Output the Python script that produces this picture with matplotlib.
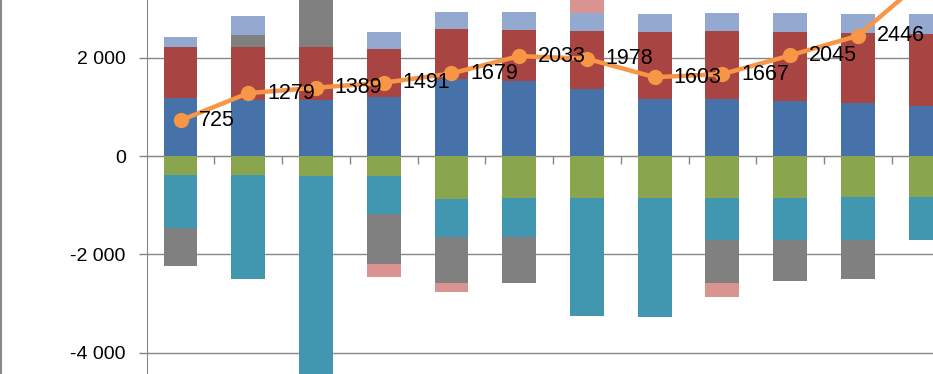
import numpy as np
import matplotlib
matplotlib.use("Agg")
import matplotlib.pyplot as plt
from matplotlib.lines import Line2D

plt.rcParams['font.family'] = ['Liberation Sans', 'DejaVu Sans']

# Data (12 categories, last one cut off on the right)
blue = [1180, 1139, 1139, 1194, 1566, 1532, 1357, 1166, 1166, 1119, 1084, 1017]
red = [1031, 1072, 1072, 982, 1011, 1031, 1192, 1357, 1383, 1403, 1424, 1464]
green = [-386, -386, -400, -407, -875, -854, -854, -854, -854, -854, -827, -827]
teal = [-1072, -2110, -4200, -773, -766, -787, -2394, -2427, -855, -855, -882, -882]
gray = [-773, 250, 1300, -1017, -949, -936, 0, 0, -868, -827, -787, 0]
lightblue = [203, 386, 350, 340, 346, 360, 354, 366, 360, 380, 380, 407]
pink = [0, 0, 0, -258, -170, 0, 300, 0, -285, 0, 0, 0]
line_vals = [725, 1279, 1389, 1491, 1679, 2033, 1978, 1603, 1667, 2045, 2446, 3620]

yticks = [-4000, -2000, 0, 2000]
ytick_labels = ['-4 000', '-2 000', '0', '2 000']

series = [
    (blue, '#4672A9'),
    (red, '#A84442'),
    (green, '#89A54E'),
    (teal, '#4197B0'),
    (gray, '#808080'),
    (lightblue, '#93A9D0'),
    (pink, '#D99391'),
]

fig = plt.figure(figsize=(9.33, 3.74), dpi=100)
ax = fig.add_axes([146.7 / 933, 0, 1 - 146.7 / 933, 1])

x = np.arange(len(blue))
pos_base = np.zeros(len(x))
neg_base = np.zeros(len(x))

# Excel-style stacking: positives and negatives stack separately
for vals, col in series:
    v = np.array(vals, dtype=float)
    bottom = np.where(v >= 0, pos_base, neg_base)
    ax.bar(x, v, bottom=bottom, width=0.5, color=col, zorder=2)
    pos_base = pos_base + np.where(v > 0, v, 0)
    neg_base = neg_base + np.where(v < 0, v, 0)

ax.plot(x, line_vals, color='#F79646', lw=3.2, marker='o', ms=10,
        zorder=4, clip_on=True)
for xi, yi in zip(x, line_vals):
    ax.annotate(str(yi), (xi, yi), xytext=(13.5, 0), textcoords='offset points',
                ha='left', va='center', fontsize=15.5, color='black', zorder=5)

ax.set_yticks(yticks)
ax.set_yticklabels(ytick_labels, fontsize=14)
ax.tick_params(axis='y', direction='out', length=6, width=1, color='#868686', pad=9)
ax.yaxis.grid(True, color='#868686', lw=1)
ax.set_axisbelow(True)

ax.set_xticks(x + 0.5)
ax.set_xticklabels([])
ax.tick_params(axis='x', direction='out', length=6, width=1, color='#868686')

ax.set_xlim(-0.5, 11.11)
ax.set_ylim(-4434, 3173)

for s in ['top', 'right']:
    ax.spines[s].set_visible(False)
ax.spines['left'].set_color('#868686')
ax.spines['left'].set_zorder(1)
ax.spines['bottom'].set_position(('data', 0))
ax.spines['bottom'].set_color('#868686')
ax.spines['bottom'].set_zorder(1)

# chart border on the far left
fig.add_artist(Line2D([1.2 / 933, 1.2 / 933], [0, 1], color='#8a8a8a', lw=1.5))

fig.savefig('out.png', dpi=100)
